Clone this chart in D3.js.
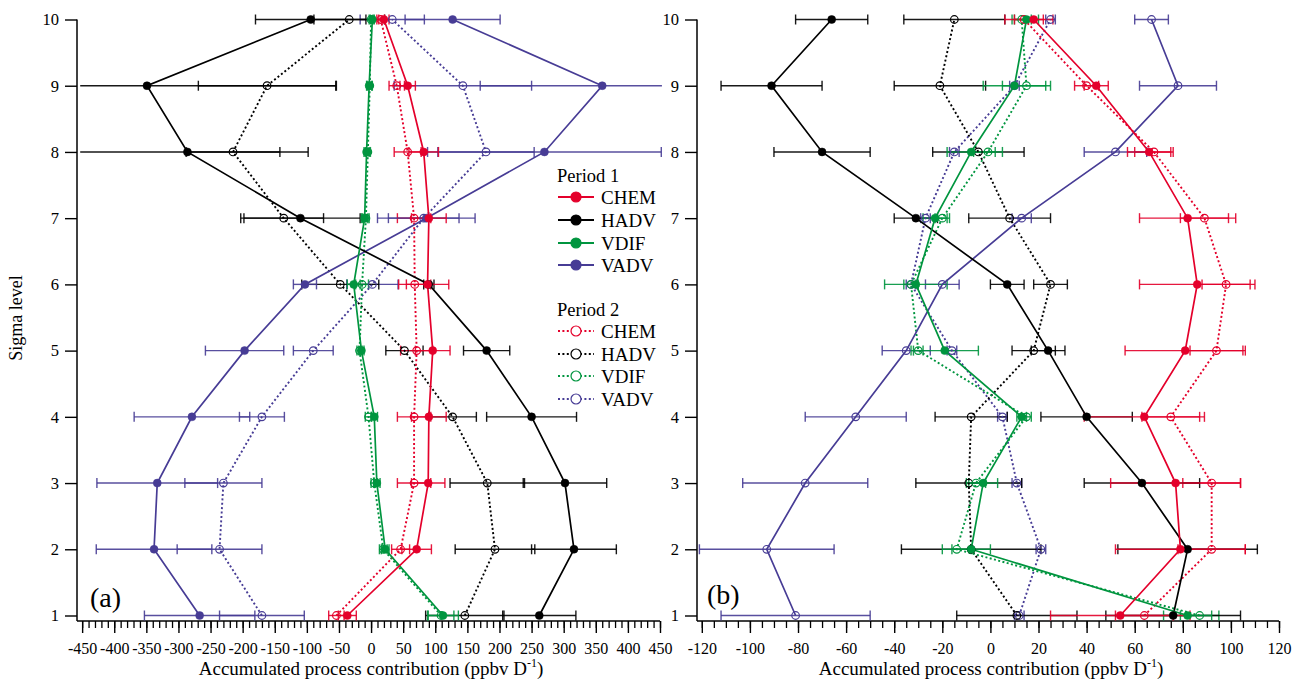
<!DOCTYPE html>
<html><head><meta charset="utf-8">
<script src="https://cdn.jsdelivr.net/npm/d3@7"></script>
<style>
body{margin:0;background:#fff;}
svg{display:block;}
text{font-family:"Liberation Serif","Times New Roman",serif;fill:#000;}
</style>
</head><body>
<svg id="chart" width="1293" height="681"></svg>
<script>
// ---------------- DATA ----------------
const levels = [1, 2, 3, 4, 5, 6, 7, 8, 9, 10];
const processes = ["CHEM", "HADV", "VDIF", "VADV"];

// Panel (a): values by sigma level 1..10
const a_CHEM_p1 = [-37, 71, 89, 90, 96, 88, 90, 82, 57, 20];
const a_CHEM_p1_err = [14, 23, 26, 27, 27, 33, 27, 23, 12, 8];
const a_CHEM_p2 = [-54, 46, 67, 67, 71, 68, 67, 57, 40, 15];
const a_CHEM_p2_err = [12, 14, 26, 26, 25, 25, 26, 21, 12, 6];
const a_HADV_p1 = [262, 316, 302, 250, 180, 90, -110, -286, -349, -94];
const a_HADV_p1_err = [57, 66, 65, 70, 36, 8, 93, 188, 295, 86];
const a_HADV_p2 = [146, 193, 181, 127, 52, -48, -136, -215, -162, -34];
const a_HADV_p2_err = [61, 62, 58, 37, 29, 60, 62, 73, 107, 55];
const a_VDIF_p1 = [112, 22, 9, 5, -15, -27, -10, -7, -3, 2];
const a_VDIF_p1_err = [24, 6, 5, 5, 4, 10, 5, 4, 4, 3];
const a_VDIF_p2 = [109, 19, 5, -4, -18, -14, -8, -5, -2, 0];
const a_VDIF_p2_err = [20, 6, 5, 5, 4, 10, 5, 4, 4, 3];
const a_VADV_p1 = [-267, -338, -333, -279, -197, -103, 86, 270, 360, 127];
const a_VADV_p1_err = [86, 90, 94, 90, 61, 18, 76, 182, 190, 74];
const a_VADV_p2 = [-170, -236, -230, -170, -90, 2, 82, 179, 143, 33];
const a_VADV_p2_err = [66, 66, 60, 35, 31, 40, 55, 75, 107, 50];

// Panel (b)
const b_CHEM_p1 = [54, 79, 77, 64, 81, 86, 82, 66, 44, 18];
const b_CHEM_p1_err = [29, 27, 27, 25, 25, 24, 20, 9, 5, 8];
const b_CHEM_p2 = [64, 92, 92, 75, 94, 98, 89, 68, 40, 14];
const b_CHEM_p2_err = [12, 14, 12, 12, 11, 10, 10, 8, 5, 8];
const b_HADV_p1 = [76, 82, 63, 40, 24, 7, -31, -70, -91, -66];
const b_HADV_p1_err = [28, 29, 24, 19, 7, 7, 9, 20, 21, 15];
const b_HADV_p2 = [11, -8, -9, -8, 18, 25, 8, -5, -21, -15];
const b_HADV_p2_err = [25, 29, 22, 15, 9, 7, 17, 19, 19, 21];
const b_VDIF_p1 = [82, -8, -3, 13, -19, -31, -23, -8, 10, 15];
const b_VDIF_p1_err = [10, 8, 6, 2, 14, 13, 5, 10, 13, 5];
const b_VDIF_p2 = [87, -14, -6, 15, -30, -33, -20, -1, 15, 13];
const b_VDIF_p2_err = [8, 6, 4, 2, 2, 3, 3, 6, 10, 4];
const b_VADV_p1 = [-81, -93, -77, -56, -35, -20, 13, 52, 78, 67];
const b_VADV_p1_err = [31, 28, 26, 21, 10, 7, 4, 13, 16, 7];
const b_VADV_p2 = [12, 21, 11, 5, -16, -33, -27, -15, 10, 25];
const b_VADV_p2_err = [2, 2, 2, 2, 2, 2, 2, 2, 2, 2];

// Tick values
const a_majorTicks = d3.range(-450, 451, 50);
const a_minorTicks = d3.range(-450, 451, 10);
const b_majorTicks = d3.range(-120, 121, 20);
const b_minorTicks = d3.range(-120, 121, 5);

const periodLabels = ["Period 1", "Period 2"];
const xTitle = "Accumulated process contribution (ppbv D";
const yTitle = "Sigma level";

// ---------------- STYLE ----------------
const colors = {CHEM: "#e4002b", HADV: "#000000", VDIF: "#00953f", VADV: "#473c95"};

const svg = d3.select("#chart");

const panels = [
  {
    id: "a", label: "(a)",
    domain: [-458, 450], range: [77, 660], clip: [-453, 453],
    major: a_majorTicks, minor: a_minorTicks,
    data: {
      CHEM: [a_CHEM_p1, a_CHEM_p1_err, a_CHEM_p2, a_CHEM_p2_err],
      HADV: [a_HADV_p1, a_HADV_p1_err, a_HADV_p2, a_HADV_p2_err],
      VDIF: [a_VDIF_p1, a_VDIF_p1_err, a_VDIF_p2, a_VDIF_p2_err],
      VADV: [a_VADV_p1, a_VADV_p1_err, a_VADV_p2, a_VADV_p2_err]
    },
    openP1: [], labelPos: [90, 607], titleX: 371
  },
  {
    id: "b", label: "(b)",
    domain: [-122, 120], range: [697, 1279], clip: [-122, 121],
    major: b_majorTicks, minor: b_minorTicks,
    data: {
      CHEM: [b_CHEM_p1, b_CHEM_p1_err, b_CHEM_p2, b_CHEM_p2_err],
      HADV: [b_HADV_p1, b_HADV_p1_err, b_HADV_p2, b_HADV_p2_err],
      VDIF: [b_VDIF_p1, b_VDIF_p1_err, b_VDIF_p2, b_VDIF_p2_err],
      VADV: [b_VADV_p1, b_VADV_p1_err, b_VADV_p2, b_VADV_p2_err]
    },
    openP1: ["VADV"], labelPos: [707, 604], titleX: 991
  }
];

const y = d3.scaleLinear().domain([1, 10]).range([615.5, 19.5]);
const axisY = 621;
const drawOrder = ["VADV", "HADV", "VDIF", "CHEM"];

panels.forEach(p => {
  const x = d3.scaleLinear().domain(p.domain).range(p.range);
  const g = svg.append("g");

  // axes lines
  g.append("line").attr("x1", p.range[0]).attr("x2", p.range[0])
    .attr("y1", y(10)).attr("y2", axisY).attr("stroke", "#000").attr("stroke-width", 1.5);
  g.append("line").attr("x1", p.range[0]).attr("x2", p.range[1])
    .attr("y1", axisY).attr("y2", axisY).attr("stroke", "#000").attr("stroke-width", 1.5);

  // y axis
  const ya = g.append("g").attr("transform", `translate(${p.range[0]},0)`)
    .call(d3.axisLeft(y).tickValues(levels).tickSize(12).tickPadding(6).tickFormat(d => String(d)));
  ya.select(".domain").remove();
  ya.selectAll("line").attr("stroke-width", 1.4);
  ya.selectAll("text").attr("font-size", 16.5).attr("font-family", "Liberation Serif");

  // x axis minor
  const xm = g.append("g").attr("transform", `translate(0,${axisY})`)
    .call(d3.axisBottom(x).tickValues(p.minor).tickSize(7).tickFormat(""));
  xm.select(".domain").remove();
  xm.selectAll("line").attr("stroke-width", 1.3);
  // x axis major
  const xa = g.append("g").attr("transform", `translate(0,${axisY})`)
    .call(d3.axisBottom(x).tickValues(p.major).tickSize(12).tickPadding(10).tickFormat(d => String(d)));
  xa.select(".domain").remove();
  xa.selectAll("line").attr("stroke-width", 1.4);
  xa.selectAll("text").attr("font-size", 16).attr("font-family", "Liberation Serif");

  // x title
  const t = g.append("text").attr("x", p.titleX).attr("y", 675).attr("text-anchor", "middle").attr("font-size", 19);
  t.append("tspan").text(xTitle);
  t.append("tspan").attr("dy", -8).attr("font-size", 12).text("-1");
  t.append("tspan").attr("dy", 8).text(")");

  // panel label
  g.append("text").attr("x", p.labelPos[0]).attr("y", p.labelPos[1]).attr("font-size", 28).text(p.label);

  const clipV = v => Math.max(p.clip[0], Math.min(p.clip[1], v));

  // error bars
  [1, 0].forEach(per => {
    drawOrder.forEach(proc => {
      const vals = p.data[proc][per * 2], errs = p.data[proc][per * 2 + 1];
      const col = colors[proc];
      levels.forEach((lev, i) => {
        const lo = vals[i] - errs[i], hi = vals[i] + errs[i];
        const x1 = x(clipV(lo)), x2 = x(clipV(hi)), yy = y(lev);
        g.append("line").attr("x1", x1).attr("x2", x2).attr("y1", yy).attr("y2", yy)
          .attr("stroke", col).attr("stroke-width", 1.4).attr("opacity", 0.9);
        if (lo >= p.clip[0]) g.append("line").attr("x1", x1).attr("x2", x1).attr("y1", yy - 5).attr("y2", yy + 5)
          .attr("stroke", col).attr("stroke-width", 1.4).attr("opacity", 0.9);
        if (hi <= p.clip[1]) g.append("line").attr("x1", x2).attr("x2", x2).attr("y1", yy - 5).attr("y2", yy + 5)
          .attr("stroke", col).attr("stroke-width", 1.4).attr("opacity", 0.9);
      });
    });
  });

  // lines
  const line = d3.line().x(d => x(d[1])).y(d => y(d[0]));
  [1, 0].forEach(per => {
    drawOrder.forEach(proc => {
      const vals = p.data[proc][per * 2];
      const pts = levels.map((l, i) => [l, vals[i]]);
      g.append("path").attr("d", line(pts)).attr("fill", "none")
        .attr("stroke", colors[proc]).attr("stroke-width", per === 0 ? 1.7 : 1.9)
        .attr("stroke-dasharray", per === 0 ? null : "2,2.4");
    });
  });

  // markers
  [1, 0].forEach(per => {
    drawOrder.forEach(proc => {
      const vals = p.data[proc][per * 2];
      const open = per === 1 || p.openP1.includes(proc);
      levels.forEach((lev, i) => {
        g.append("circle").attr("cx", x(vals[i])).attr("cy", y(lev)).attr("r", open ? 3.8 : 4)
          .attr("fill", open ? "none" : colors[proc])
          .attr("stroke", colors[proc]).attr("stroke-width", open ? 1.2 : 0.5);
      });
    });
  });
});

// y axis title
svg.append("text").attr("transform", "translate(22,318) rotate(-90)")
  .attr("text-anchor", "middle").attr("font-size", 18).text(yTitle);

// legend
const leg = svg.append("g");
const legX0 = 558, legX1 = 594, legMx = 576, legTx = 601;
const legBlocks = [
  {title: periodLabels[0], ty: 182, ys: [197, 220, 243, 265], per: 0},
  {title: periodLabels[1], ty: 316, ys: [331, 354, 376, 399], per: 1}
];
legBlocks.forEach(b => {
  leg.append("text").attr("x", 557).attr("y", b.ty).attr("font-size", 18.5).text(b.title);
  processes.forEach((proc, i) => {
    const yy = b.ys[i];
    leg.append("line").attr("x1", legX0).attr("x2", legX1).attr("y1", yy).attr("y2", yy)
      .attr("stroke", colors[proc]).attr("stroke-width", 1.8)
      .attr("stroke-dasharray", b.per === 0 ? null : "2,2.4");
    leg.append("circle").attr("cx", legMx).attr("cy", yy).attr("r", 5)
      .attr("fill", b.per === 0 ? colors[proc] : "#fff")
      .attr("stroke", colors[proc]).attr("stroke-width", 1.2);
    leg.append("text").attr("x", legTx).attr("y", yy).attr("dy", "0.35em").attr("font-size", 19).text(proc);
  });
});
</script>
</body></html>
